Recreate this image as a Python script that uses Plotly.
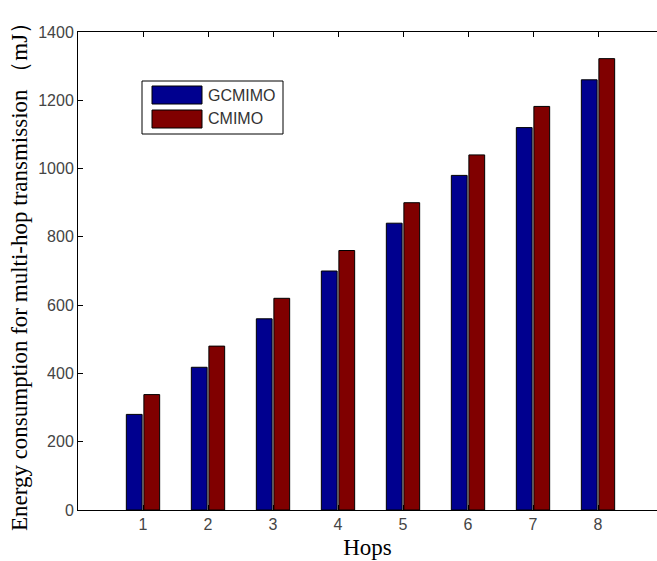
import plotly.graph_objects as go

hops = [1, 2, 3, 4, 5, 6, 7, 8]
gcmimo = [280, 418, 560, 700, 840, 980, 1120, 1260]
cmimo = [338, 480, 620, 760, 900, 1040, 1182, 1322]
series_names = ["GCMIMO", "CMIMO"]
colors = ["#00008F", "#800000"]
y_ticks = [0, 200, 400, 600, 800, 1000, 1200, 1400]

W, H = 657, 561
L, R, T, B = 78, 0, 32, 51
pw, ph = W - L - R, H - T - B

fig = go.Figure()
for name, vals, col in zip(series_names, [gcmimo, cmimo], colors):
    fig.add_trace(go.Bar(x=hops, y=vals, name=name, marker=dict(color=col, line=dict(color="black", width=1)),
                         showlegend=False))

def px2paper(x, y):
    return (x - L) / pw, (H - B - y) / ph

shapes = []
annotations = []
# legend box
x0, y0 = px2paper(142, 81)
x1, y1 = px2paper(283, 134)
shapes.append(dict(type="rect", xref="paper", yref="paper", x0=x0, y0=y1, x1=x1, y1=y0,
                   line=dict(color="black", width=1), fillcolor="white"))
for i, (name, col) in enumerate(zip(series_names, colors)):
    top = 86 + i * 24
    sx0, sy0 = px2paper(152, top)
    sx1, sy1 = px2paper(202, top + 18)
    shapes.append(dict(type="rect", xref="paper", yref="paper", x0=sx0, y0=sy1, x1=sx1, y1=sy0,
                       line=dict(color="black", width=1), fillcolor=col))
    tx, ty = px2paper(206, top + 9)
    annotations.append(dict(text=name, xref="paper", yref="paper", x=tx, y=ty, xanchor="left", yanchor="middle",
                            showarrow=False, font=dict(family="Arial, Liberation Sans", size=16, color="#333")))

fig.update_layout(
    width=W, height=H,
    margin=dict(l=L, r=R, t=T, b=B),
    paper_bgcolor="white", plot_bgcolor="white",
    barmode="group", bargap=0.46, bargroupgap=0.1,
    shapes=shapes, annotations=annotations,
    font=dict(family="Arial, Liberation Sans", size=16, color="#444"),
    xaxis=dict(range=[0, pw / 65.0], tickmode="array", tickvals=hops, ticktext=[str(h) for h in hops],
               showline=True, linecolor="black", linewidth=1, mirror="ticks", ticks="inside", ticklen=5,
               tickcolor="black", showgrid=False, zeroline=False,
               title=dict(text="Hops", font=dict(family="Liberation Serif, Times New Roman", size=23, color="black"),
                          standoff=6)),
    yaxis=dict(range=[0, 1400], tickmode="array", tickvals=y_ticks, showline=True, linecolor="black", linewidth=1,
               mirror=False, ticks="inside", ticklen=5, tickcolor="black", showgrid=False, zeroline=False,
               title=dict(text="Energy consumption for multi-hop transmission （mJ）",
                          font=dict(family="Liberation Serif, Times New Roman", size=23, color="black"),
                          standoff=4)),
)

fig.write_html("out.html", config={"displayModeBar": False},
               post_script="document.body.style.margin='0px';")
